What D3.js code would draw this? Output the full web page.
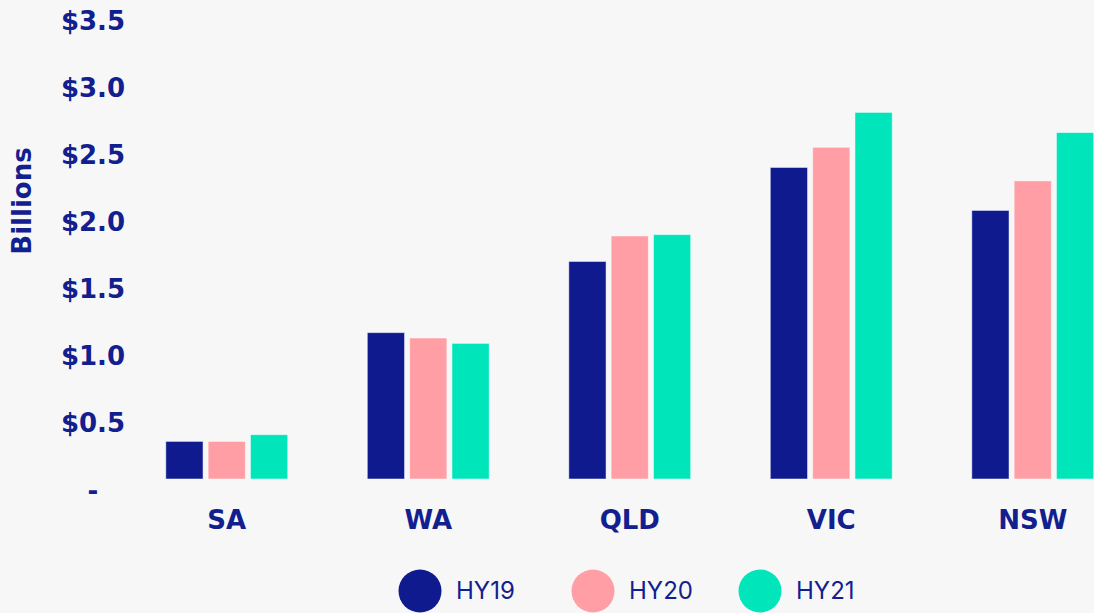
<!DOCTYPE html>
<html>
<head>
<meta charset="utf-8">
<script src="https://cdn.jsdelivr.net/npm/d3@7"></script>
<style>
  html, body { margin: 0; padding: 0; background: #f7f7f7; }
  svg { display: block; font-family: "DejaVu Sans", sans-serif; }
</style>
</head>
<body>
<div id="chart"></div>
<script>
var width = 1094, height = 613;

// data (billions)
var states = ['SA', 'WA', 'QLD', 'VIC', 'NSW'];
var series = ['HY19', 'HY20', 'HY21'];
var hy19 = [0.28, 1.09, 1.62, 2.32, 2.00];
var hy20 = [0.28, 1.05, 1.81, 2.47, 2.22];
var hy21 = [0.33, 1.01, 1.82, 2.73, 2.58];
var yTicks = [0, 0.5, 1.0, 1.5, 2.0, 2.5, 3.0, 3.5];
var colors = ['#0f1a8e', '#ff9ea4', '#00e6ba'];

var values = [hy19, hy20, hy21];
var navy = '#12208f';

var svg = d3.select('#chart').append('svg')
	.attr('width', width)
	.attr('height', height);

svg.append('rect')
	.attr('width', '100%')
	.attr('height', '100%')
	.attr('fill', '#f7f7f7');

var x0 = d3.scaleBand().domain(states).range([125.5, 1134]).paddingInner(0.395).paddingOuter(0.2);
var x1 = d3.scaleBand().domain(series).range([0, x0.bandwidth()]).paddingInner(0.12);
var y = d3.scaleLinear().domain([0, 3.5]).range([479, 9]);
var color = d3.scaleOrdinal().domain(series).range(colors);

// y axis labels (no line), centred on x=93
var yAxis = d3.axisLeft(y).tickValues(yTicks).tickSize(0)
	.tickFormat(function(d){ return d === 0 ? '-' : '$' + d.toFixed(1); });
var ya = svg.append('g').attr('transform', 'translate(93,0)').call(yAxis);
ya.select('.domain').remove();
ya.selectAll('text')
	.attr('x', 0)
	.attr('dy', '0.35em')
	.attr('transform', 'translate(0,11)')
	.attr('text-anchor', 'middle')
	.attr('fill', navy)
	.style('font-family', '"DejaVu Sans", sans-serif')
	.style('font-size', '26px')
	.style('font-weight', 700);

svg.append('text')
	.attr('transform', 'translate(22,201) rotate(-90)')
	.attr('text-anchor', 'middle')
	.attr('dy', '0.35em')
	.attr('fill', navy)
	.style('font-size', '26px')
	.style('font-weight', 700)
	.text('Billions');

// bars
var groups = svg.append('g').selectAll('g')
	.data(states)
	.enter()
	.append('g')
	.attr('transform', function(d){ return 'translate(' + x0(d) + ',0)'; });

groups.selectAll('rect')
	.data(function(d, i){ return series.map(function(s, j){ return {s: s, v: values[j][i]}; }); })
	.enter()
	.append('rect')
	.attr('x', function(d){ return x1(d.s); })
	.attr('y', function(d){ return y(d.v); })
	.attr('width', x1.bandwidth())
	.attr('height', function(d){ return y(0) - y(d.v); })
	.attr('fill', function(d){ return color(d.s); })
	.attr('stroke', '#ffffff')
	.attr('stroke-opacity', 0.5)
	.attr('stroke-width', 1);

// x axis labels
var xAxis = d3.axisBottom(x0).tickSize(0);
var xa = svg.append('g').attr('transform', 'translate(0,479)').call(xAxis);
xa.select('.domain').remove();
xa.selectAll('text')
	.attr('y', 41)
	.attr('dy', '0.35em')
	.attr('fill', navy)
	.style('font-family', '"DejaVu Sans", sans-serif')
	.style('font-size', '26px')
	.style('font-weight', 700);

// legend
var legendX = [420, 593, 760];
var legend = svg.append('g').selectAll('g')
	.data(series)
	.enter()
	.append('g')
	.attr('transform', function(d, i){ return 'translate(' + legendX[i] + ',591)'; });
legend.append('circle')
	.attr('r', 21.5)
	.attr('fill', function(d){ return color(d); });
legend.append('text')
	.attr('x', 36)
	.attr('dy', '0.35em')
	.attr('fill', navy)
	.style('font-family', 'Inter, sans-serif')
	.style('font-size', '24px')
	.text(function(d){ return d; });
</script>
</body>
</html>
